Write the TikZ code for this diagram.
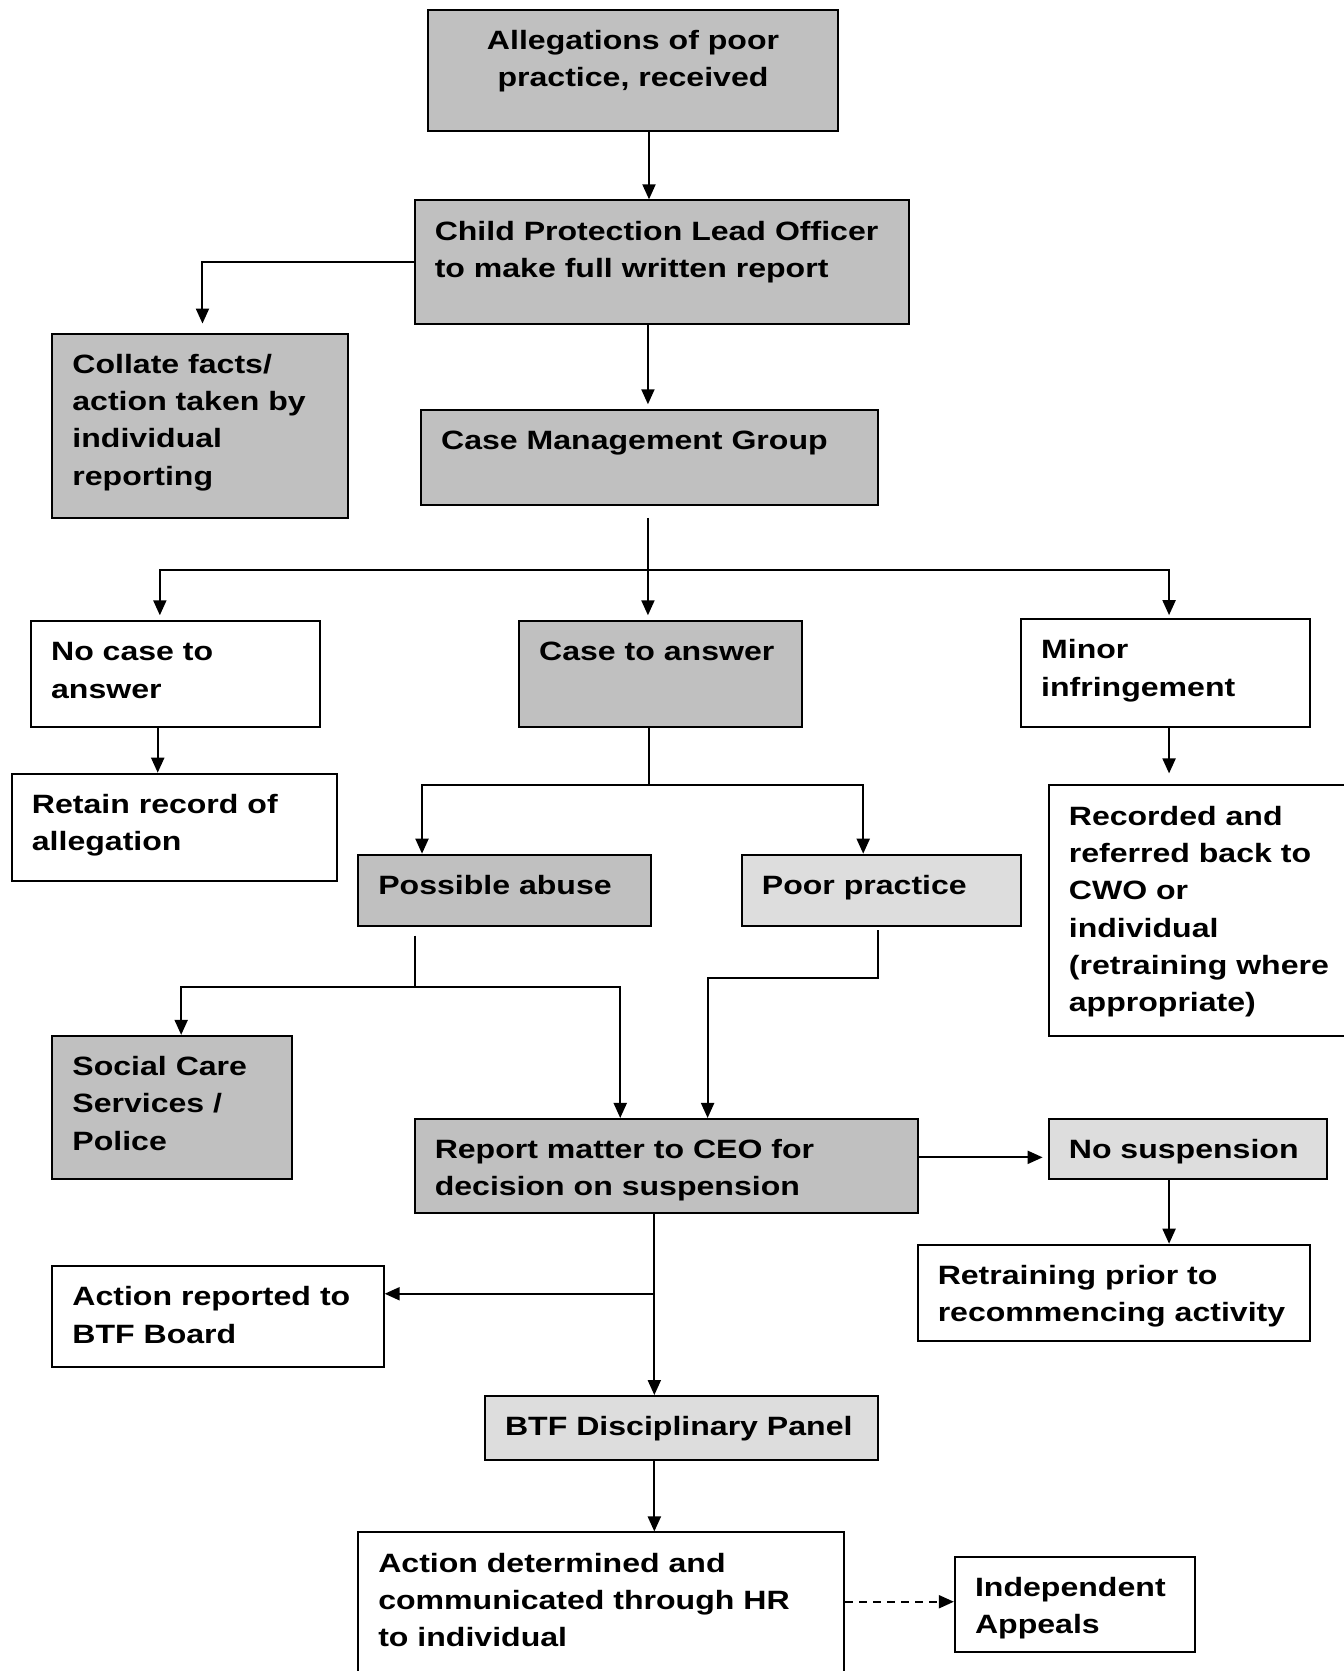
\documentclass[tikz,border=0pt]{standalone}
\usepackage{fontspec}
\setmainfont{Liberation Sans}[FakeStretch=1.21]
\usetikzlibrary{arrows.meta,fit,calc}
\definecolor{dg}{HTML}{C0C0C0}
\definecolor{lg}{HTML}{DDDDDD}
\newcommand\mybox[7]{%
  \coordinate (#1-a) at (#3,#4);
  \coordinate (#1-b) at (#5,#6);
  \node[box, fill=#2, fit=(#1-a)(#1-b)] (#1) {};
  \node[txt] (#1-t) at ([xshift=21pt,yshift=-20pt]#1.north west) {\rule{0pt}{20.5pt}#7};
}
\begin{document}
\begin{tikzpicture}[x=1.0658pt,y=-1.0658pt,
  box/.style={draw=black, line width=2pt, inner sep=0pt},
  txt/.style={anchor=north west, inner sep=0pt, align=left, font=\bfseries\fontsize{26.5}{37.3}\selectfont},
  ln/.style={line width=2pt},
  arr/.style={line width=2pt, -{Triangle[length=15pt,width=13pt]}}
]
\useasboundingbox (0,0) rectangle (1261,1568);

% boxes
\coordinate (alleg-a) at (402,9);
\coordinate (alleg-b) at (786,123);
\node[box, fill=dg, fit=(alleg-a)(alleg-b)] (alleg) {};
\node[txt, anchor=north, align=center] (alleg-t) at ([yshift=-20pt]alleg.north) {\rule{0pt}{20.5pt}Allegations of poor\\practice, received};

\mybox{cp}{dg}{389}{188}{853}{304}{Child Protection Lead Officer\\to make full written report}
\mybox{collate}{dg}{49}{313}{327}{486}{Collate facts/\\action taken by\\individual\\reporting}
\mybox{cmg}{dg}{395}{385}{824}{474}{Case Management Group}
\mybox{nocase}{white}{29}{583}{300}{682}{No case to\\answer}
\mybox{casea}{dg}{487}{583}{753}{682}{Case to answer}
\mybox{minor}{white}{958}{581}{1229}{682}{Minor\\infringement}
\mybox{retain}{white}{11}{726}{316}{827}{Retain record of\\allegation}
\mybox{recorded}{white}{984}{737}{1275}{972}{Recorded and\\referred back to\\CWO or\\individual\\(retraining where\\appropriate)}
\mybox{possible}{dg}{336}{802}{611}{869}{Possible abuse}
\mybox{poor}{lg}{696}{802}{958}{869}{Poor practice}
\mybox{social}{dg}{49}{972}{274}{1106}{Social Care\\Services /\\Police}
\mybox{report}{dg}{389}{1050}{861}{1138}{Report matter to CEO for\\decision on suspension}
\mybox{nosusp}{lg}{984}{1050}{1245}{1106}{No suspension}
\mybox{retrain}{white}{861}{1168}{1229}{1258}{Retraining prior to\\recommencing activity}
\mybox{actrep}{white}{49}{1188}{360}{1283}{Action reported to\\BTF Board}
\mybox{btf}{lg}{455}{1310}{824}{1370}{BTF Disciplinary Panel}
\mybox{actdet}{white}{336}{1438}{792}{1590}{Action determined and\\communicated through HR\\to individual}
\mybox{indep}{white}{896}{1461}{1121}{1550}{Independent\\Appeals}

% junction coordinates
\coordinate (k609) at (609,0);
\coordinate (k190) at (190,0);
\coordinate (k608) at (608,0);
\coordinate (cmgstub) at (608,486);
\coordinate (hub1) at (608,535);
\coordinate (k150) at (150,0);
\coordinate (k1097) at (1097,0);
\coordinate (k148) at (148,0);
\coordinate (hub2) at (609,737);
\coordinate (k396) at (396,0);
\coordinate (k810) at (810,0);
\coordinate (pastub) at (389,878);
\coordinate (hub3) at (389,926);
\coordinate (k170) at (170,0);
\coordinate (k582) at (582,0);
\coordinate (p0) at (824,873);
\coordinate (p1) at (824,918);
\coordinate (p2) at (664,918);
\coordinate (r1) at (900,1086);
\coordinate (k614) at (614,0);
\coordinate (hub4) at (614,1214);
\coordinate (d1) at (840,1503);

% connectors
\draw[arr] (alleg.south -| k609) -- (cp.north -| k609);
\draw[arr, shorten >=9pt] (cp.west) -| (collate.north -| k190);
\draw[arr, shorten >=5pt] (cp.south -| k608) -- (cmg.north -| k608);
\draw[ln] (cmgstub) -- (hub1);
\draw[arr, shorten >=5pt] (hub1) -| (nocase.north -| k150);
\draw[arr, shorten >=5pt] (hub1) -- (casea.north -| hub1);
\draw[arr, shorten >=3pt] (hub1) -| (minor.north -| k1097);
\draw[arr] (nocase.south -| k148) -- (retain.north -| k148);
\draw[ln] (casea.south -| hub2) -- (hub2);
\draw[arr] (hub2) -| (possible.north -| k396);
\draw[arr] (hub2) -| (poor.north -| k810);
\draw[arr, shorten >=11pt] (minor.south -| k1097) -- (recorded.north -| k1097);
\draw[ln] (pastub) -- (hub3);
\draw[arr] (hub3) -| (social.north -| k170);
\draw[arr] (hub3) -| (report.north -| k582);
\draw[arr] (p0) -- (p1) -- (p2) -- (report.north -| p2);
\draw[arr, shorten >=5pt] (report.east |- r1) -- (nosusp.west |- r1);
\draw[arr] (nosusp.south -| k1097) -- (retrain.north -| k1097);
\draw[arr] (report.south -| k614) -- (btf.north -| k614);
\draw[arr] (hub4) -- (actrep.east |- hub4);
\draw[arr] (btf.south -| k614) -- (actdet.north -| k614);
\draw[arr, dash pattern=on 8pt off 6pt] (actdet.east |- d1) -- (indep.west |- d1);
\end{tikzpicture}
\end{document}
